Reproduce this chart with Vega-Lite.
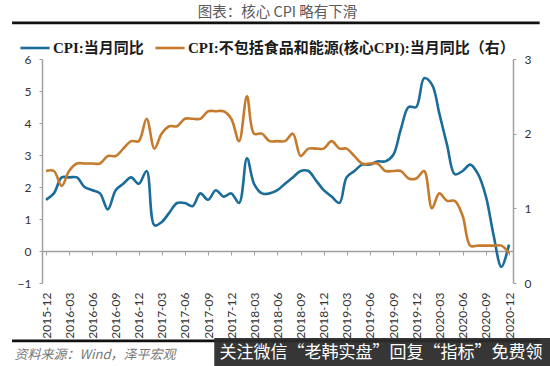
{
  "$schema": "https://vega.github.io/schema/vega-lite/v6.json",
  "width": 471,
  "height": 224,
  "autosize": {"type": "none"},
  "padding": {"left": 42, "top": 59, "right": 37, "bottom": 83},
  "background": "white",
  "config": {"view": {"stroke": null}},
  "title": {"text": "图表：核心 CPI 略有下滑", "font": "Noto Sans CJK SC", "fontSize": 14.5, "fontWeight": "normal", "color": "#5a5a5a", "anchor": "middle", "frame": "group", "offset": 1},
  "data": {
    "values": [
      {"month": "2015-12", "cpi": 1.6, "core": 1.5},
      {"month": "2016-01", "cpi": 1.8, "core": 1.5},
      {"month": "2016-02", "cpi": 2.3, "core": 1.3},
      {"month": "2016-03", "cpi": 2.3, "core": 1.5},
      {"month": "2016-04", "cpi": 2.3, "core": 1.6},
      {"month": "2016-05", "cpi": 2.0, "core": 1.6},
      {"month": "2016-06", "cpi": 1.9, "core": 1.6},
      {"month": "2016-07", "cpi": 1.8, "core": 1.6},
      {"month": "2016-08", "cpi": 1.3, "core": 1.7},
      {"month": "2016-09", "cpi": 1.9, "core": 1.7},
      {"month": "2016-10", "cpi": 2.1, "core": 1.8},
      {"month": "2016-11", "cpi": 2.3, "core": 1.9},
      {"month": "2016-12", "cpi": 2.1, "core": 1.9},
      {"month": "2017-01", "cpi": 2.5, "core": 2.2},
      {"month": "2017-02", "cpi": 0.8, "core": 1.8},
      {"month": "2017-03", "cpi": 0.9, "core": 2.0},
      {"month": "2017-04", "cpi": 1.2, "core": 2.1},
      {"month": "2017-05", "cpi": 1.5, "core": 2.1},
      {"month": "2017-06", "cpi": 1.5, "core": 2.2},
      {"month": "2017-07", "cpi": 1.4, "core": 2.2},
      {"month": "2017-08", "cpi": 1.8, "core": 2.2},
      {"month": "2017-09", "cpi": 1.6, "core": 2.3},
      {"month": "2017-10", "cpi": 1.9, "core": 2.3},
      {"month": "2017-11", "cpi": 1.7, "core": 2.3},
      {"month": "2017-12", "cpi": 1.8, "core": 2.2},
      {"month": "2018-01", "cpi": 1.5, "core": 1.9},
      {"month": "2018-02", "cpi": 2.9, "core": 2.5},
      {"month": "2018-03", "cpi": 2.1, "core": 2.0},
      {"month": "2018-04", "cpi": 1.8, "core": 2.0},
      {"month": "2018-05", "cpi": 1.8, "core": 1.9},
      {"month": "2018-06", "cpi": 1.9, "core": 1.9},
      {"month": "2018-07", "cpi": 2.1, "core": 1.9},
      {"month": "2018-08", "cpi": 2.3, "core": 2.0},
      {"month": "2018-09", "cpi": 2.5, "core": 1.7},
      {"month": "2018-10", "cpi": 2.5, "core": 1.8},
      {"month": "2018-11", "cpi": 2.2, "core": 1.8},
      {"month": "2018-12", "cpi": 1.9, "core": 1.8},
      {"month": "2019-01", "cpi": 1.7, "core": 1.9},
      {"month": "2019-02", "cpi": 1.5, "core": 1.8},
      {"month": "2019-03", "cpi": 2.3, "core": 1.8},
      {"month": "2019-04", "cpi": 2.5, "core": 1.7},
      {"month": "2019-05", "cpi": 2.7, "core": 1.6},
      {"month": "2019-06", "cpi": 2.7, "core": 1.6},
      {"month": "2019-07", "cpi": 2.8, "core": 1.6},
      {"month": "2019-08", "cpi": 2.8, "core": 1.5},
      {"month": "2019-09", "cpi": 3.0, "core": 1.5},
      {"month": "2019-10", "cpi": 3.8, "core": 1.5},
      {"month": "2019-11", "cpi": 4.5, "core": 1.4},
      {"month": "2019-12", "cpi": 4.5, "core": 1.4},
      {"month": "2020-01", "cpi": 5.4, "core": 1.5},
      {"month": "2020-02", "cpi": 5.2, "core": 1.0},
      {"month": "2020-03", "cpi": 4.3, "core": 1.2},
      {"month": "2020-04", "cpi": 3.3, "core": 1.1},
      {"month": "2020-05", "cpi": 2.4, "core": 1.1},
      {"month": "2020-06", "cpi": 2.5, "core": 0.9},
      {"month": "2020-07", "cpi": 2.7, "core": 0.5},
      {"month": "2020-08", "cpi": 2.4, "core": 0.5},
      {"month": "2020-09", "cpi": 1.7, "core": 0.5},
      {"month": "2020-10", "cpi": 0.5, "core": 0.5},
      {"month": "2020-11", "cpi": -0.5, "core": 0.5},
      {"month": "2020-12", "cpi": 0.2, "core": 0.4}
    ],
    "format": {"parse": {"month": "utc:'%Y-%m'"}}
  },
  "layer": [
    {
      "mark": {"type": "line", "interpolate": "catmull-rom", "strokeWidth": 2.6},
      "encoding": {
        "x": {
          "field": "month", "type": "temporal",
          "scale": {"type": "utc", "domain": [{"year": 2015, "month": 12, "date": 1, "utc": true}, {"year": 2020, "month": 12, "date": 1, "utc": true}], "padding": 4},
          "axis": {
            "values": [
              {"year": 2015, "month": 12, "date": 1, "utc": true},
              {"year": 2016, "month": 3, "date": 1, "utc": true},
              {"year": 2016, "month": 6, "date": 1, "utc": true},
              {"year": 2016, "month": 9, "date": 1, "utc": true},
              {"year": 2016, "month": 12, "date": 1, "utc": true},
              {"year": 2017, "month": 3, "date": 1, "utc": true},
              {"year": 2017, "month": 6, "date": 1, "utc": true},
              {"year": 2017, "month": 9, "date": 1, "utc": true},
              {"year": 2017, "month": 12, "date": 1, "utc": true},
              {"year": 2018, "month": 3, "date": 1, "utc": true},
              {"year": 2018, "month": 6, "date": 1, "utc": true},
              {"year": 2018, "month": 9, "date": 1, "utc": true},
              {"year": 2018, "month": 12, "date": 1, "utc": true},
              {"year": 2019, "month": 3, "date": 1, "utc": true},
              {"year": 2019, "month": 6, "date": 1, "utc": true},
              {"year": 2019, "month": 9, "date": 1, "utc": true},
              {"year": 2019, "month": 12, "date": 1, "utc": true},
              {"year": 2020, "month": 3, "date": 1, "utc": true},
              {"year": 2020, "month": 6, "date": 1, "utc": true},
              {"year": 2020, "month": 9, "date": 1, "utc": true},
              {"year": 2020, "month": 12, "date": 1, "utc": true}
            ],
            "format": "%Y-%m",
            "offset": -32, "grid": false,
            "domainColor": "#a0a0a0", "domainWidth": 1.5, "tickColor": "#a0a0a0", "tickSize": 4,
            "labelAngle": -90, "labelAlign": "right", "labelBaseline": "middle", "labelPadding": 37,
            "labelFont": "Lato", "labelFontSize": 12, "labelColor": "#333333", "labelOverlap": false, "labelFlush": false,
            "title": "资料来源：Wind，泽平宏观", "titleFont": "Noto Sans CJK SC", "titleFontSize": 13, "titleFontWeight": "normal", "titleFontStyle": "italic", "titleColor": "#777777",
            "titleAnchor": "start", "titleAlign": "left", "titleBaseline": "middle", "titleX": -28, "titleY": 103
          }
        },
        "y": {
          "field": "cpi", "type": "quantitative",
          "scale": {"domain": [-1, 6], "nice": false, "zero": false},
          "axis": {"values": [-1, 0, 1, 2, 3, 4, 5, 6], "labelOverlap": false, "grid": false, "title": null, "domainColor": "#a0a0a0", "domainWidth": 1.5, "tickColor": "#a0a0a0", "tickSize": 3, "labelFont": "Lato", "labelFontSize": 12, "labelColor": "#333333", "labelPadding": 8}
        },
        "color": {"datum": "CPI:当月同比", "type": "nominal",
          "scale": {"domain": ["CPI:当月同比", "CPI:不包括食品和能源(核心CPI):当月同比（右）"], "range": ["#1b6c98", "#c67a2c"]},
          "legend": {"orient": "none", "legendX": -23, "legendY": -27, "direction": "horizontal", "title": null, "symbolType": "stroke", "symbolSize": 850, "symbolStrokeWidth": 2.6, "labelFont": "Liberation Serif, Noto Sans CJK SC", "labelFontSize": 15, "labelFontWeight": "bold", "labelColor": "#1a1a1a", "labelLimit": 500, "columnPadding": 6, "labelOffset": 2}
        }
      }
    },
    {
      "mark": {"type": "line", "interpolate": "catmull-rom", "strokeWidth": 2.6},
      "encoding": {
        "x": {"field": "month", "type": "temporal", "axis": null,
          "scale": {"type": "utc", "domain": [{"year": 2015, "month": 12, "date": 1, "utc": true}, {"year": 2020, "month": 12, "date": 1, "utc": true}], "padding": 4}},
        "y": {
          "field": "core", "type": "quantitative",
          "scale": {"domain": [0, 3], "nice": false, "zero": false},
          "axis": {"orient": "right", "values": [0, 1, 2, 3], "labelOverlap": false, "grid": false, "title": null, "domainColor": "#a0a0a0", "domainWidth": 1.5, "tickColor": "#a0a0a0", "tickSize": 3, "labelFont": "Lato", "labelFontSize": 12, "labelColor": "#333333", "labelPadding": 8}
        },
        "color": {"datum": "CPI:不包括食品和能源(核心CPI):当月同比（右）", "type": "nominal"}
      }
    },
    {
      "data": {"values": [{}]},
      "encoding": {},
      "layer": [
        {
          "mark": {"type": "rule", "color": "#111111", "strokeWidth": 2.6},
          "encoding": {
            "x": {"datum": {"year": 2015, "month": 7, "date": 20, "utc": true}, "type": "temporal", "axis": null,
              "scale": {"type": "utc", "domain": [{"year": 2015, "month": 12, "date": 1, "utc": true}, {"year": 2020, "month": 12, "date": 1, "utc": true}], "padding": 4}},
            "x2": {"datum": {"year": 2021, "month": 4, "date": 1, "utc": true}},
            "y": {"datum": 7.13, "type": "quantitative", "axis": null, "scale": {"domain": [-1, 6], "nice": false, "zero": false}}
          }
        },
        {
          "mark": {"type": "rule", "color": "#111111", "strokeWidth": 2.6},
          "encoding": {
            "x": {"datum": {"year": 2015, "month": 7, "date": 20, "utc": true}, "type": "temporal", "axis": null},
            "x2": {"datum": {"year": 2021, "month": 4, "date": 1, "utc": true}},
            "y": {"datum": -2.81, "type": "quantitative", "axis": null}
          }
        },
        {
          "mark": {"type": "rect", "color": "#2b2b2b", "opacity": 0.95},
          "encoding": {
            "x": {"datum": {"year": 2017, "month": 9, "date": 25, "utc": true}, "type": "temporal", "axis": null},
            "x2": {"datum": {"year": 2021, "month": 6, "date": 1, "utc": true}},
            "y": {"datum": -2.72, "type": "quantitative", "axis": null},
            "y2": {"datum": -3.7}
          }
        },
        {
          "mark": {"type": "text", "color": "white", "font": "Noto Sans CJK SC", "fontSize": 17, "align": "center", "baseline": "middle"},
          "encoding": {
            "x": {"datum": {"year": 2019, "month": 7, "date": 15, "utc": true}, "type": "temporal", "axis": null},
            "y": {"datum": -3.19, "type": "quantitative", "axis": null},
            "text": {"value": "关注微信“老韩实盘”回复“指标”免费领"}
          }
        }
      ]
    }
  ],
  "resolve": {"scale": {"x": "independent", "y": "independent"}}
}
